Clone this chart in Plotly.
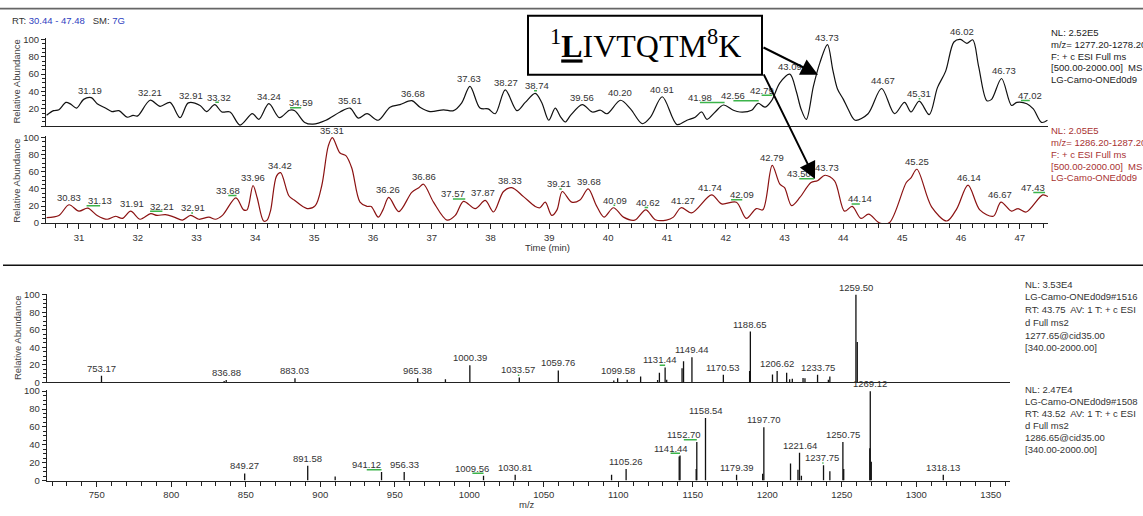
import plotly.graph_objects as go

W, H = 1143, 516

# ---------------- data ----------------
# chromatogram 1 : m/z 1277.20-1278.20
top_rt = [30.45, 30.57, 30.66, 30.78, 30.86, 30.96, 31.08, 31.21, 31.31, 31.45, 31.56, 31.68, 31.82, 31.92,
          32.00, 32.21, 32.38, 32.55, 32.72, 32.86, 33.06, 33.17, 33.31, 33.43, 33.57, 33.74, 33.95, 34.06,
          34.23, 34.41, 34.58, 34.67, 34.84, 34.98, 35.20, 35.44, 35.61, 35.75, 35.90, 36.09, 36.29, 36.46,
          36.66, 36.80, 36.97, 37.20, 37.37, 37.51, 37.65, 37.82, 37.96, 38.08, 38.25, 38.45, 38.59, 38.76,
          38.87, 38.99, 39.10, 39.19, 39.27, 39.36, 39.56, 39.73, 39.87, 39.98, 40.21, 40.38, 40.58, 40.72,
          40.92, 41.17, 41.34, 41.48, 41.59, 41.68, 41.82, 41.96, 42.13, 42.24, 42.44, 42.55, 42.67, 42.78,
          42.92, 43.09, 43.20, 43.28, 43.37, 43.49, 43.60, 43.73, 43.82, 43.90, 44.00, 44.08, 44.20, 44.42,
          44.65, 44.87, 45.04, 45.15, 45.29, 45.46, 45.60, 45.74, 45.88, 45.99, 46.10, 46.20, 46.30, 46.44,
          46.52, 46.69, 46.86, 46.95, 47.12, 47.23, 47.37, 47.47]
top_int = [12.7, 18, 19, 27.5, 25.5, 21, 31, 33, 26, 21, 17, 18, 10.5, 12.5,
           12, 30, 23, 27.5, 10, 27, 24, 17, 25, 16.5, 16.5, 1.5, 14.5, 8,
           26, 10, 18.5, 18, 4.5, 2.5, 7, 16.5, 21, 9.5, 14.5, 7, 22, 25,
           29.5, 22, 17, 19, 18, 27, 46, 21, 20, 14.5, 42, 18, 27.5, 38,
           27.5, 7, 21, 11, 5, 12.5, 25, 16.5, 18.5, 14.5, 30, 20, 3, 10.5,
           34, 2, 7, 10.5, 16.5, 8, 16.5, 24.5, 18.5, 16.5, 18.5, 26.5, 22, 29.5,
           50, 60, 40, 20, 8, 46, 73, 94, 65, 43, 31, 20, 7, 14.5,
           43.5, 14.5, 27.5, 16.5, 29, 13.5, 44.5, 63.5, 97, 100, 95.5, 99.5, 69, 29.5,
           31, 55, 24, 27.5, 26, 20, 4.5, 7]
top_pk_rt = [31.19, 32.21, 32.91, 33.32, 34.24, 34.59, 35.61, 36.68, 37.63, 38.27, 38.74, 39.56,
             40.20, 40.91, 41.98, 42.56, 42.79, 43.09, 43.73, 44.67, 45.31, 46.02, 46.73, 47.02]
top_pk_int = [33, 30, 27, 25, 26, 18.5, 21, 29.5, 46, 42, 38, 25,
              30, 34, 24.5, 26.5, 33, 60, 94, 43.5, 29, 100, 55, 27]

# chromatogram 2 : m/z 1286.20-1287.20
bot_rt = [30.45, 30.66, 30.83, 31.00, 31.15, 31.31, 31.48, 31.62, 31.74, 31.88, 32.04, 32.22, 32.33, 32.47,
          32.62, 32.76, 32.90, 33.04, 33.21, 33.32, 33.44, 33.67, 33.80, 33.86, 33.96, 34.03, 34.14, 34.20,
          34.26, 34.36, 34.43, 34.57, 34.66, 34.88, 35.02, 35.13, 35.24, 35.31, 35.44, 35.54, 35.64, 35.78,
          35.90, 35.97, 36.09, 36.17, 36.27, 36.44, 36.66, 36.78, 36.86, 37.03, 37.26, 37.40, 37.54, 37.74,
          37.91, 38.05, 38.22, 38.36, 38.56, 38.76, 38.84, 38.93, 39.04, 39.13, 39.22, 39.38, 39.52, 39.66,
          39.80, 39.93, 40.09, 40.26, 40.45, 40.64, 40.80, 40.99, 41.11, 41.24, 41.42, 41.76, 41.93, 42.18,
          42.35, 42.52, 42.63, 42.79, 42.92, 43.00, 43.12, 43.26, 43.45, 43.56, 43.69, 43.85, 44.02, 44.15,
          44.30, 44.43, 44.61, 44.78, 45.07, 45.15, 45.25, 45.50, 45.76, 45.93, 46.12, 46.32, 46.55, 46.68,
          46.86, 46.97, 47.11, 47.39, 47.48]
bot_int = [6.5, 9, 21.5, 14, 17.5, 9, 4.5, 8, 5.5, 14, 4.5, 11, 9, 10,
           7, 3.5, 9, 4.5, 7, 4.5, 9, 29.5, 15.5, 15.5, 44, 30, 2.5, 3.5,
           15, 55, 59, 32, 27, 17, 20.5, 44, 90, 100, 82, 79, 64.5, 24.5,
           19.5, 19.5, 7, 15.5, 30, 13.5, 36, 41.5, 45.5, 24.5, 3.5, 9, 25.5, 17,
           26.5, 13, 37, 41.5, 31, 19.5, 18, 24.5, 9, 15.5, 37, 24.5, 27, 40,
           20.5, 7, 18, 7, 3.5, 15.5, 4, 3.5, 7, 18, 12, 33, 22.5, 24.5,
           5.5, 17, 15.5, 67.5, 45.5, 41.5, 20.5, 30, 47.5, 49.5, 56, 49.5, 14, 19.5,
           5.5, 10.5, 0.3, 0.3, 47.5, 53, 63, 19, 2.5, 17, 44.5, 15.5, 8, 24.5,
           14, 17, 13, 33, 31]
bot_pk_rt = [30.83, 31.13, 31.91, 32.21, 32.91, 33.68, 33.96, 34.42, 35.31, 36.26, 36.86, 37.57, 37.87,
             38.33, 39.21, 39.68, 40.09, 40.62, 41.27, 41.74, 42.09, 42.79, 43.50, 43.73, 44.14, 45.25,
             46.14, 46.67, 47.43]
bot_pk_int = [21.5, 17.5, 14, 11, 9, 29.5, 44, 59, 100, 30, 45.5, 25.5, 26.5,
              41.5, 37, 40, 18, 15.5, 18, 33, 24.5, 67.5, 49, 56, 19.5, 63,
              44.5, 24.5, 33]

# MS2 spectrum 1 (precursor 1277.65)
spec1_mz = [753.17, 835.5, 836.88, 883.03, 965.38, 984.0, 1000.39, 1033.57, 1059.76, 1097.0, 1099.58,
            1106.0, 1115.0, 1126.4, 1127.6, 1131.44, 1132.5, 1142.8, 1143.8, 1149.44, 1170.53, 1188.15,
            1188.65, 1203.5, 1206.62, 1213.0, 1215.0, 1216.8, 1224.0, 1225.3, 1233.75, 1241.0, 1242.0,
            1259.50, 1260.4]
spec1_int = [7.5, 1.5, 2.5, 4.5, 4.5, 3.5, 19.5, 5.5, 13.5, 2, 4.5,
             3, 6.5, 2.5, 11, 17, 3, 16, 24, 28.5, 8.5, 13,
             58, 9, 13, 11, 3.5, 4, 5, 4.5, 8.5, 3, 6.5,
             100, 46]
spec1_labels = [753.17, 836.88, 883.03, 965.38, 1000.39, 1033.57, 1059.76, 1099.58, 1131.44, 1149.44,
                1170.53, 1188.65, 1206.62, 1233.75, 1259.50]

# MS2 spectrum 2 (precursor 1286.65)
spec2_mz = [849.27, 891.58, 910.0, 941.12, 956.33, 1009.56, 1030.81, 1095.5, 1105.26, 1140.9, 1141.44,
            1152.3, 1152.70, 1158.54, 1179.39, 1196.9, 1197.70, 1215.6, 1220.6, 1221.64, 1222.9, 1237.75,
            1242.0, 1250.75, 1251.3, 1268.8, 1269.12, 1269.8, 1318.13]
spec2_int = [8, 16.5, 4.5, 9.5, 9.5, 5.5, 6.5, 6.5, 13, 27, 28,
             13, 43, 70, 6.5, 7.5, 59.5, 19, 12, 31, 5.5, 17,
             10.5, 43, 13, 36, 100, 21, 6.5]
spec2_labels = [849.27, 891.58, 941.12, 956.33, 1009.56, 1030.81, 1105.26, 1141.44, 1152.70, 1158.54,
                1179.39, 1197.70, 1221.64, 1237.75, 1250.75, 1269.12, 1318.13]

# ---------------- layout helpers ----------------
def xp(px):
    return px / W


def yp(px):
    return 1 - px / H


YR = [0, 101.5]


def ydom(zero_px, hundred_px):
    per = (zero_px - hundred_px) / 100.0
    return [yp(zero_px), yp(zero_px - YR[1] * per)]


FONT = "Liberation Sans, Arial, sans-serif"
tickfont = dict(family=FONT, size=9.5, color="#333")
AX = "#222"

minor_y = dict(ticks="outside", ticklen=2.5, tickwidth=1, tickcolor=AX, showgrid=False,
               tickmode="array", tickvals=[v for v in range(5, 100, 5) if v % 20])


def yaxis(dom, anchor, show0=True):
    return dict(domain=dom, anchor=anchor, range=YR, showline=True, linecolor=AX, linewidth=1.1,
                ticks="outside", ticklen=4, tickwidth=1, tickcolor=AX, tickmode="array",
                tickvals=[0, 20, 40, 60, 80, 100],
                ticktext=[("0" if show0 else ""), "20", "40", "60", "80", "100"],
                tickfont=tickfont, showgrid=False, zeroline=False, minor=minor_y, fixedrange=True)


CH_X = [xp(46), xp(1048)]
SP_X = [xp(46.7), xp(1010)]
CH_R = [30.44, 47.48]
SP_R = [716.4, 1362.9]

fig = go.Figure()

fig.add_trace(go.Scatter(x=top_rt, y=top_int, mode="lines", xaxis="x", yaxis="y",
                         line=dict(color="#111", width=1.2, shape="spline", smoothing=0.9),
                         hoverinfo="skip", showlegend=False))
fig.add_trace(go.Scatter(x=bot_rt, y=bot_int, mode="lines", xaxis="x2", yaxis="y2",
                         line=dict(color="#8b1212", width=1.2, shape="spline", smoothing=0.9),
                         hoverinfo="skip", showlegend=False))


def sticks(mz, it):
    xs, ys = [], []
    for m, v in zip(mz, it):
        xs += [m, m, None]
        ys += [0, v, None]
    return xs, ys


sx, sy = sticks(spec1_mz, spec1_int)
fig.add_trace(go.Scatter(x=sx, y=sy, mode="lines", xaxis="x3", yaxis="y3",
                         line=dict(color="#111", width=1.3), hoverinfo="skip", showlegend=False))
sx, sy = sticks(spec2_mz, spec2_int)
fig.add_trace(go.Scatter(x=sx, y=sy, mode="lines", xaxis="x4", yaxis="y4",
                         line=dict(color="#111", width=1.3), hoverinfo="skip", showlegend=False))

annotations = []
shapes = []
GREEN = "#3cb44b"
lab_font = dict(family=FONT, size=9.5, color="#333")

# label positions moved sideways (layout, not data)
top_label_at = {33.32: 33.38, 34.59: 34.78, 38.74: 38.79, 41.98: 41.56, 42.56: 42.13,
                42.79: 42.61, 45.31: 45.28, 47.02: 47.17}
bot_label_at = {31.13: 31.36, 32.21: 32.42, 32.91: 32.94, 33.68: 33.54, 37.57: 37.36,
                39.21: 39.17, 40.09: 40.12, 40.62: 40.68, 42.09: 42.28, 43.50: 43.25,
                44.14: 44.28, 47.43: 47.23}
spec1_label_at = {1131.44: 1127.8, 1033.57: 1032.6}
spec2_label_at = {941.12: 931.2, 1009.56: 1002.1, 1141.44: 1135.1, 1152.70: 1144.0, 1237.75: 1236.9}


def peak_labels(rts, ints, moved, xref, yref, gap):
    for r, v in zip(rts, ints):
        lx = moved.get(r, r)
        annotations.append(dict(x=lx, y=v, xref=xref, yref=yref, text=f"{r:.2f}", showarrow=False,
                                yanchor="bottom", xanchor="center", font=lab_font, yshift=0))
        if r in moved:
            shapes.append(dict(type="line", xref=xref, yref=yref, x0=lx, x1=r, y0=v + gap, y1=v + gap,
                               line=dict(color=GREEN, width=1.5)))


peak_labels(top_pk_rt, top_pk_int, top_label_at, "x", "y", 2.8)
peak_labels(bot_pk_rt, bot_pk_int, bot_label_at, "x2", "y2", 2.8)


def spec_labels(mz, it, labels, moved, xref, yref):
    d = dict(zip(mz, it))
    peak_labels(labels, [d[l] for l in labels], moved, xref, yref, 2.6)


spec_labels(spec1_mz, spec1_int, spec1_labels, spec1_label_at, "x3", "y3")
spec_labels(spec2_mz, spec2_int, spec2_labels, spec2_label_at, "x4", "y4")


def ptext(x, y, text, size=9.5, color="#333", xanchor="left", family=FONT, angle=0):
    annotations.append(dict(x=xp(x), y=yp(y), xref="paper", yref="paper", text=text, showarrow=False,
                            xanchor=xanchor, yanchor="middle", textangle=angle,
                            font=dict(family=family, size=size, color=color)))


BLUE = "#2f3fbf"
ptext(10, 17, f"RT: <span style='color:{BLUE}'>30.44 - 47.48</span>   SM: <span style='color:{BLUE}'>7G</span>",
      size=9.5, color="#333")

info1 = ["NL: 2.52E5", "m/z= 1277.20-1278.20", "F: + c ESI Full ms", "[500.00-2000.00]  MS", "LG-Camo-ONEd0d9"]
info2 = ["NL: 2.05E5", "m/z= 1286.20-1287.20", "F: + c ESI Full ms", "[500.00-2000.00]  MS", "LG-Camo-ONEd0d9"]
info3 = ["NL: 3.53E4", "LG-Camo-ONEd0d9#1516", "RT: 43.75  AV: 1 T: + c ESI", "d Full ms2",
         "1277.65@cid35.00", "[340.00-2000.00]"]
info4 = ["NL: 2.47E4", "LG-Camo-ONEd0d9#1508", "RT: 43.52  AV: 1 T: + c ESI", "d Full ms2",
         "1286.65@cid35.00", "[340.00-2000.00]"]
for i, t in enumerate(info1):
    ptext(1049, 29 + i * 12, t, color="#222")
for i, t in enumerate(info2):
    ptext(1049, 129 + i * 12, t, color="#a83232")
for i, t in enumerate(info3):
    ptext(1023, 285 + i * 13, t, color="#333")
for i, t in enumerate(info4):
    ptext(1023, 392 + i * 12.2, t, color="#333")

for yc in (79, 180, 340):
    ptext(17, yc, "Relative Abundance", size=9.5, color="#444", xanchor="center", angle=-90)
ptext(547, 248, "Time (min)", size=9.5, color="#333", xanchor="center")
ptext(527, 509, "m/z", size=9.5, color="#333", xanchor="center")

# peptide box + arrows
shapes.append(dict(type="rect", xref="paper", yref="paper", x0=xp(528), x1=xp(762), y0=yp(72), y1=yp(12),
                   line=dict(color="#000", width=2), fillcolor="white", layer="above"))
annotations.append(dict(x=xp(645), y=yp(41), xref="paper", yref="paper", showarrow=False,
                        text="<sup>1</sup><b><u>L</u></b>IVTQTM<sup>8</sup>K", xanchor="center", yanchor="middle",
                        font=dict(family="Liberation Serif, Times New Roman, serif", size=32, color="#000")))
annotations.append(dict(x=xp(818), y=yp(72), xref="paper", yref="paper", ax=762 - 818, ay=44 - 72,
                        axref="pixel", ayref="pixel", text="", showarrow=True, arrowhead=2, arrowsize=1.7,
                        arrowwidth=2, arrowcolor="#000", standoff=0, startstandoff=0))
annotations.append(dict(x=xp(815), y=yp(178), xref="paper", yref="paper", ax=763 - 815, ay=72 - 178,
                        axref="pixel", ayref="pixel", text="", showarrow=True, arrowhead=2, arrowsize=1.7,
                        arrowwidth=2, arrowcolor="#000", standoff=0, startstandoff=0))

# frame lines
shapes.append(dict(type="line", xref="paper", yref="paper", x0=0, x1=1, y0=yp(4.7), y1=yp(4.7),
                   line=dict(color="#666", width=1.6)))
shapes.append(dict(type="line", xref="paper", yref="paper", x0=xp(3), x1=1, y0=yp(266), y1=yp(266),
                   line=dict(color="#111", width=1.5)))

xbase = dict(showgrid=False, zeroline=False, showline=True, linecolor=AX, linewidth=1.2, fixedrange=True,
             tickfont=tickfont)

fig.update_layout(
    width=W, height=H, autosize=False, margin=dict(l=0, r=0, t=0, b=0),
    paper_bgcolor="white", plot_bgcolor="white", showlegend=False,
    xaxis=dict(xbase, domain=CH_X, range=CH_R, anchor="y", showticklabels=False, ticks=""),
    yaxis=yaxis(ydom(124.5, 36), "x", show0=False),
    xaxis2=dict(xbase, domain=CH_X, range=CH_R, anchor="y2", ticks="outside", ticklen=5, tickwidth=1,
                tickcolor=AX, tickmode="linear", tick0=0, dtick=1,
                minor=dict(ticks="outside", ticklen=4, tickwidth=1, tickcolor=AX, dtick=0.2, tick0=0,
                           showgrid=False)),
    yaxis2=yaxis(ydom(223, 136), "x2"),
    xaxis3=dict(xbase, domain=SP_X, range=SP_R, anchor="y3", showticklabels=False, ticks=""),
    yaxis3=yaxis(ydom(385, 296), "x3"),
    xaxis4=dict(xbase, domain=SP_X, range=SP_R, anchor="y4", ticks="outside", ticklen=5, tickwidth=1,
                tickcolor=AX, tickmode="linear", tick0=0, dtick=50,
                minor=dict(ticks="outside", ticklen=4, tickwidth=1, tickcolor=AX, dtick=10, tick0=0,
                           showgrid=False)),
    yaxis4=yaxis(ydom(485, 394), "x4"),
    annotations=annotations, shapes=shapes,
)

fig.write_html("out.html", config={"displayModeBar": False},
               post_script="document.body.style.margin='0px';document.body.style.overflow='hidden';")
